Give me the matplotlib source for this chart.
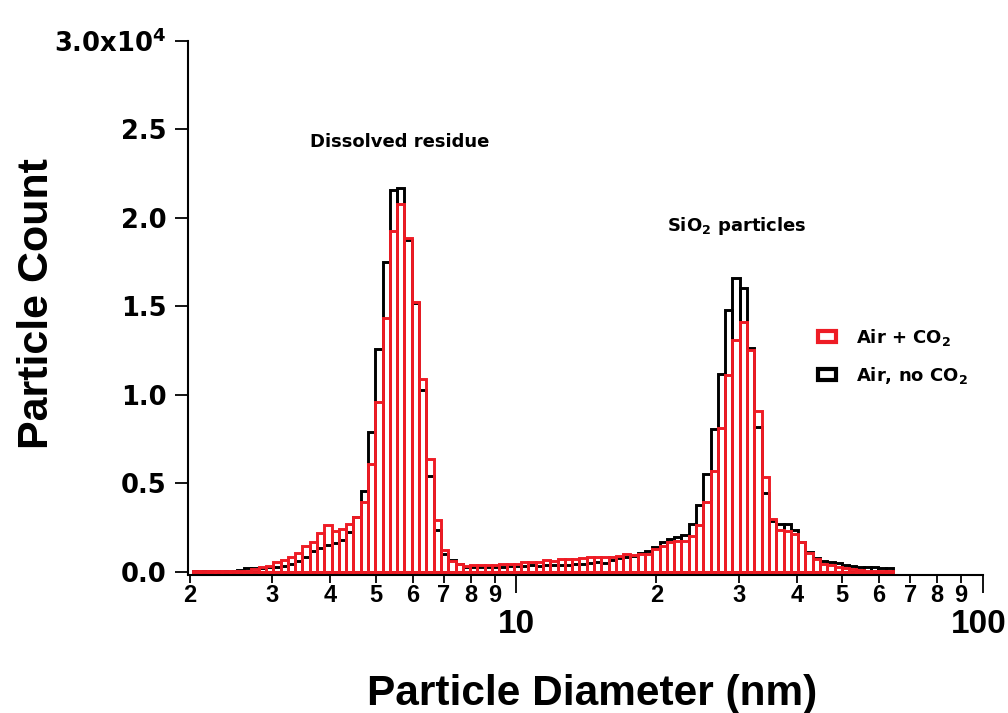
import numpy as np
import matplotlib
matplotlib.use("Agg")
import matplotlib.pyplot as plt
from matplotlib.patches import Patch
from matplotlib.ticker import FixedLocator, FixedFormatter
from matplotlib.transforms import ScaledTranslation

plt.rcParams["mathtext.fontset"] = "dejavusans"

# SMPS size channels: 64 channels per decade, first channel index 20 (~2 nm)
channels_per_decade = 64
first_channel = 20

# Particle counts per channel (channels 20 ... 115)
air_co2 = [40, 40, 40, 40, 40, 40, 40, 50,
           150, 260, 350, 530, 680, 830, 1060, 1470, 1680, 2200,
           2620, 2330, 2410, 2690, 3110, 3920, 6100, 9590, 14330, 19270,
           20770, 18850, 15240, 10920, 6390, 2940, 1240, 600, 450, 330,
           360, 400, 370, 370, 470, 470, 420, 580, 580, 580,
           680, 630, 720, 720, 720, 770, 830, 830, 830, 830,
           870, 1000, 960, 1020, 1020, 1280, 1470, 1710, 1750, 1730,
           2030, 2640, 3930, 5700, 8120, 11130, 13110, 14140, 12510, 9060,
           5350, 2960, 2350, 2330, 2130, 1680, 1060, 720, 450, 360,
           265, 210, 150, 130, 75, 75, 60, 60]

air_no_co2 = [30, 30, 30, 30, 30, 30,
              120, 190, 200, 230, 250, 265, 340, 450, 610, 820,
              1190, 1350, 1530, 1620, 1800, 2230, 3100, 4590, 7910, 12600,
              17530, 21580, 21710, 18760, 15200, 10250, 5390, 2340, 1000, 680,
              420, 300, 290, 290, 300, 300, 290, 320, 320, 320,
              370, 340, 360, 360, 380, 400, 430, 430, 490, 530,
              490, 680, 770, 830, 870, 1050, 1200, 1430, 1660, 1860,
              1960, 2090, 2690, 3790, 5510, 8060, 11170, 14770, 16590, 16030,
              12640, 8160, 4480, 2900, 2720, 2720, 2370, 1710, 1110, 810,
              620, 550, 490, 400, 340, 300, 265, 260, 210, 210]

minor_tick_values = [2, 3, 4, 5, 6, 7, 8, 9, 20, 30, 40, 50, 60, 70, 80, 90]
minor_tick_labels = ["2", "3", "4", "5", "6", "7", "8", "9",
                     "2", "3", "4", "5", "6", "7", "8", "9"]
major_tick_values = [10, 100]
major_tick_labels = ["10", "100"]
y_tick_values = [0, 5000, 10000, 15000, 20000, 25000, 30000]
y_tick_labels = ["0.0", "0.5", "1.0", "1.5", "2.0", "2.5", r"3.0x10$^{\mathbf{4}}$"]

RED = "#ee1c25"
BLACK = "#000000"

n = len(air_co2)
edges = 10 ** ((np.arange(first_channel, first_channel + n + 1) - 0.3) / channels_per_decade)
left = edges[:-1]
widths = np.diff(edges)

W, H = 1008, 713
fig = plt.figure(figsize=(W / 100, H / 100), dpi=100)
ax = fig.add_axes([188 / W, (H - 574.5) / H, (982.5 - 188) / W, (574.5 - 40.8) / H])

ax.bar(left, air_no_co2, width=widths, align="edge", fill=False,
       edgecolor=BLACK, linewidth=2.1, zorder=2)
ax.bar(left, air_co2, width=widths, align="edge", fill=False,
       edgecolor=RED, linewidth=2.1, zorder=3)

ax.set_xscale("log")
ax.set_xlim(1.981, 100)
ax.set_ylim(-150, 30000)

for s in ["top", "right"]:
    ax.spines[s].set_visible(False)
for s in ["left", "bottom"]:
    ax.spines[s].set_linewidth(1.5)

# x ticks
ax.xaxis.set_major_locator(FixedLocator(major_tick_values))
ax.xaxis.set_major_formatter(FixedFormatter(major_tick_labels))
ax.xaxis.set_minor_locator(FixedLocator(minor_tick_values))
ax.xaxis.set_minor_formatter(FixedFormatter(minor_tick_labels))
ax.tick_params(axis="x", which="major", length=13, width=1.3, pad=12, direction="out")
ax.tick_params(axis="x", which="minor", length=6, width=1.3, pad=0.5, direction="out")
xfam = ["Liberation Sans Narrow", "Liberation Sans", "DejaVu Sans"]
for lab in ax.xaxis.get_majorticklabels():
    lab.set_fontfamily(xfam); lab.set_fontweight("bold"); lab.set_fontsize(24)
for lab in ax.xaxis.get_minorticklabels():
    lab.set_fontfamily(xfam); lab.set_fontweight("bold"); lab.set_fontsize(17)
# "100" sits at the figure's right edge, as in the reference, but kept inside
lab100 = ax.xaxis.get_majorticklabels()[-1]
lab100.set_horizontalalignment("right")
lab100.set_transform(lab100.get_transform() + ScaledTranslation(24 / 100, 0, fig.dpi_scale_trans))

# y ticks
ax.yaxis.set_major_locator(FixedLocator(y_tick_values))
ax.yaxis.set_major_formatter(FixedFormatter(y_tick_labels))
ax.tick_params(axis="y", which="major", length=9.5, width=1.3, pad=6, direction="out")
for lab in ax.yaxis.get_majorticklabels():
    lab.set_fontfamily("DejaVu Sans"); lab.set_fontweight("bold"); lab.set_fontsize(18.5)

# axis titles
fig.text(592 / W, 1 - 705 / H, "Particle Diameter (nm)", ha="center", va="baseline",
         fontsize=30.5, fontweight="bold", family="Liberation Sans")
fig.text(37 / W, 1 - 304 / H, "Particle Count", ha="center", va="center", rotation=90,
         fontsize=31, fontweight="bold", family="Liberation Sans")

# annotations
fig.text(400 / W, 1 - 142 / H, "Dissolved residue", ha="center", va="center",
         fontsize=13, fontweight="bold", family="DejaVu Sans")
fig.text(737 / W, 1 - 226 / H, r"SiO$_\mathbf{2}$ particles", ha="center", va="center",
         fontsize=13, fontweight="bold", family="DejaVu Sans")

# legend
handles = [Patch(facecolor="white", edgecolor=RED, linewidth=3),
           Patch(facecolor="white", edgecolor=BLACK, linewidth=3)]
labels = [r"Air + CO$_\mathbf{2}$", r"Air, no CO$_\mathbf{2}$"]
fig.legend(handles, labels, loc="upper left", bbox_to_anchor=(809 / W, 1 - 318 / H),
           frameon=False, borderpad=0, handlelength=1.0, handleheight=0.55,
           handletextpad=1.1, labelspacing=0.95,
           prop={"family": "DejaVu Sans", "weight": "bold", "size": 13})

fig.savefig("out.png", dpi=100)
